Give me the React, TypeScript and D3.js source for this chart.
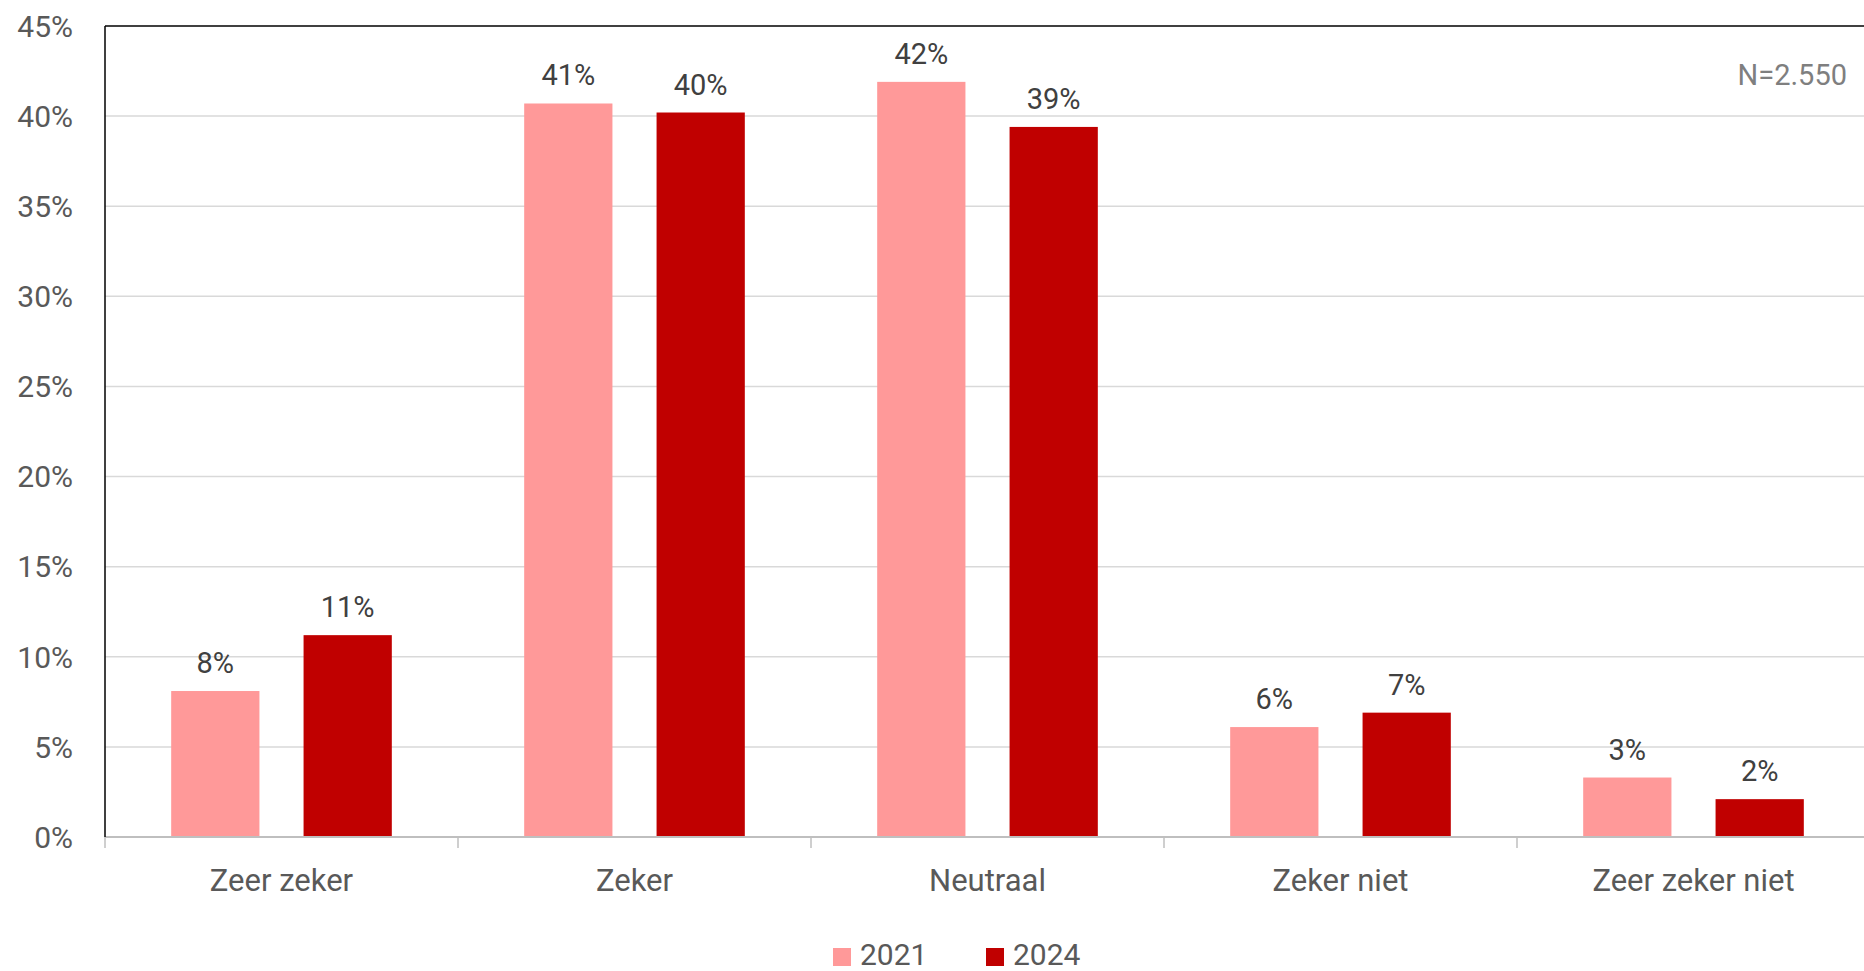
import React from "react";
import * as d3 from "d3";

const categories = ["Zeer zeker", "Zeker", "Neutraal", "Zeker niet", "Zeer zeker niet"];
const seriesNames = ["2021", "2024"];
const values2021 = [8.1, 40.7, 41.9, 6.1, 3.3];
const values2024 = [11.2, 40.2, 39.4, 6.9, 2.1];
const yTicks = [0, 5, 10, 15, 20, 25, 30, 35, 40, 45];
const sampleNote = "N=2.550";

const colors: Record<string, string> = { "2021": "#FF9999", "2024": "#C00000" };

const W = 1864;
const H = 971;
const left = 105;
const top = 26;
const baseline = 837;
const catWidth = 353;
const FONT = "Roboto, 'Noto Sans', sans-serif";

export default function App() {
  const x = d3
    .scaleBand<string>()
    .domain(categories)
    .range([left, left + catWidth * categories.length])
    .paddingInner(0)
    .paddingOuter(0);
  const xs = d3
    .scaleBand<string>()
    .domain(seriesNames)
    .range([0, x.bandwidth()])
    .paddingInner(1 / 3)
    .paddingOuter(0.5);
  const y = d3.scaleLinear().domain([0, 45]).range([baseline, top]);

  const series = [
    { name: "2021", values: values2021 },
    { name: "2024", values: values2024 },
  ];

  const legendItems = [
    { name: "2021", x: 833 },
    { name: "2024", x: 986 },
  ];

  return (
    <svg
      width={W}
      height={H}
      style={{ position: "absolute", left: 0, top: 0, background: "#fff" }}
      fontFamily={FONT}
    >
      {/* gridlines */}
      {yTicks
        .filter((t) => t > 0 && t < 45)
        .map((t) => (
          <line
            key={t}
            x1={left}
            x2={W}
            y1={y(t)}
            y2={y(t)}
            stroke="#d9d9d9"
            strokeWidth={1.5}
          />
        ))}
      {/* y tick labels */}
      {yTicks.map((t) => (
        <text
          key={t}
          x={73}
          y={y(t)}
          dy="0.36em"
          textAnchor="end"
          fontSize={30}
          fill="#595959"
        >
          {t}%
        </text>
      ))}
      {/* bars */}
      {series.map((s) =>
        s.values.map((v, i) => {
          const bx = (x(categories[i]) ?? 0) + (xs(s.name) ?? 0);
          return (
            <g key={s.name + i}>
              <rect
                x={bx}
                y={y(v)}
                width={xs.bandwidth()}
                height={baseline - y(v)}
                fill={colors[s.name]}
              />
              <text
                x={bx + xs.bandwidth() / 2}
                y={y(v) - 18}
                textAnchor="middle"
                fontSize={29}
                fill="#404040"
              >
                {Math.round(v)}%
              </text>
            </g>
          );
        })
      )}
      {/* x axis */}
      <line x1={left} x2={W} y1={baseline} y2={baseline} stroke="#bfbfbf" strokeWidth={2} />
      {d3.range(categories.length + 1).map((i) => (
        <line
          key={i}
          x1={left + i * catWidth}
          x2={left + i * catWidth}
          y1={baseline}
          y2={baseline + 11}
          stroke="#bfbfbf"
          strokeWidth={1.5}
        />
      ))}
      {categories.map((c) => (
        <text
          key={c}
          x={(x(c) ?? 0) + x.bandwidth() / 2}
          y={891}
          textAnchor="middle"
          fontSize={31}
          fill="#595959"
        >
          {c}
        </text>
      ))}
      {/* frame: left axis and top border */}
      <line x1={left} x2={left} y1={top} y2={baseline} stroke="#000" strokeWidth={1.5} />
      <line x1={left} x2={W} y1={top} y2={top} stroke="#000" strokeWidth={1.5} />
      {/* sample size */}
      <text x={1847} y={85} textAnchor="end" fontSize={29} fill="#7f7f7f">
        {sampleNote}
      </text>
      {/* legend */}
      {legendItems.map((l) => (
        <g key={l.name}>
          <rect x={l.x} y={948} width={18} height={18} fill={colors[l.name]} />
          <text x={l.x + 27} y={965} fontSize={30} fill="#595959">
            {l.name}
          </text>
        </g>
      ))}
    </svg>
  );
}
